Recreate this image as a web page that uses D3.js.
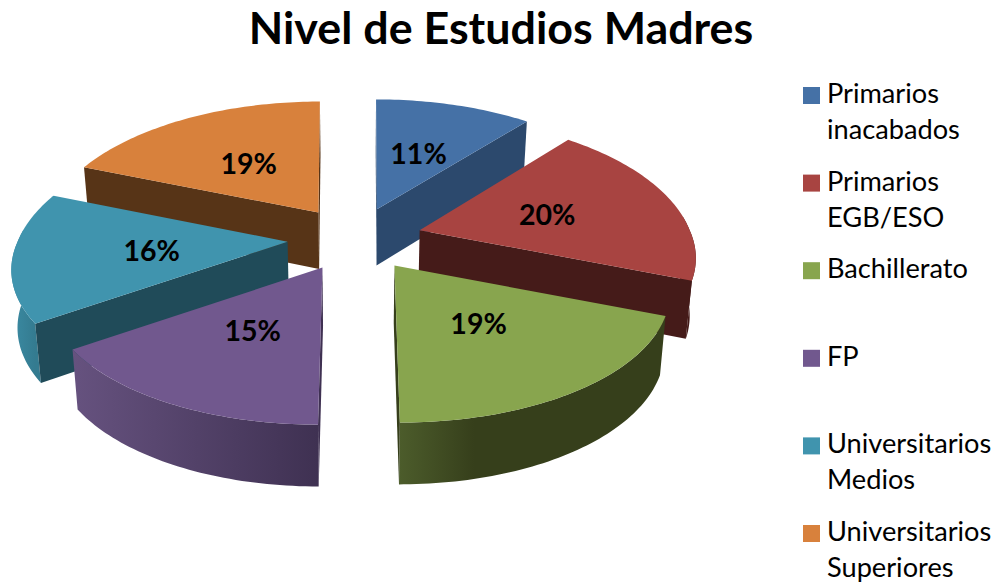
<!DOCTYPE html>
<html>
<head>
<meta charset="utf-8">
<script src="https://cdnjs.cloudflare.com/ajax/libs/d3/7.8.5/d3.min.js"></script>
<style>
  html, body { margin: 0; background: #fff; }
  svg { display: block; }
  text { font-family: Lato, "Open Sans", sans-serif; fill: #000; }
</style>
</head>
<body>
<svg width="1000" height="586"></svg>
<script>
const title = "Nivel de Estudios Madres";
const categories = [
  ["Primarios", "inacabados"],
  ["Primarios", "EGB/ESO"],
  ["Bachillerato"],
  ["FP"],
  ["Universitarios", "Medios"],
  ["Universitarios", "Superiores"]
];
const values = [11, 20, 19, 15.3, 15.7, 19];
const topColors = ["#4571a6", "#a84441", "#88a54e", "#71588e", "#4094ae", "#d8813c"];
const faceColors = ["#2c496d", "#451b19", "#363f1b", "#3f3152", "#204b59", "#573417"];
const wallLeft = ["#2c496d", "#451b19", "#4c5c2b", "#66527f", "#3b8ba3", "#573417"];
const wallRight = ["#2c496d", "#451b19", "#363f1b", "#3f3152", "#347b90", "#573417"];
// back slices get painted first
const drawOrder = [0, 5, 1, 4, 2, 3];

const svg = d3.select("svg");

// perspective of the pie plane
const persp = 0.185;
const center = {x: 355, y: 238};
const explode = 0.25;
const sx = d3.scaleLinear().domain([-1, 1]).range([-270, 270]);
const sy = d3.scaleLinear().domain([-1, 1]).range([128, -128]);
const depth = d3.scaleLinear().domain([100, 430]).range([53.5, 62]);
const bottomShrink = 0.982;

function project(r, a) {
  let X = r * Math.sin(a), Z = r * Math.cos(a);
  let s = 1 / (1 + persp * Z);
  return [sx(X) * s, sy(Z) * s, s, Z];
}

function under(p) {
  return [center.x + (p[0] - center.x) * bottomShrink, p[1] + depth(p[1])];
}

const pie = d3.pie().sort(null).value(d => d);
const arcs = pie(values);
const line = d3.line();

// one slice in screen coordinates
arcs.forEach(d => {
  let mid = (d.startAngle + d.endAngle) / 2;
  let off = project(explode, mid);
  d.apex = [center.x + off[0], center.y + off[1]];
  d.at = (r, a) => {
    let p = project(r, a);
    // slices pulled sideways lean out a bit towards the front
    let lean = off[0] * (p[2] > 1 ? 0.6 : 0.25) * (p[2] - 1);
    let lift = Math.abs(off[0]) * 0.08 * Math.max(p[3], 0);
    return [d.apex[0] + p[0] + lean, d.apex[1] + p[1] - lift];
  };
  d.mid = mid;
  d.angles = d3.range(d.startAngle, d.endAngle, 0.02).concat([d.endAngle]);
});

const defs = svg.append("defs");
const pieG = svg.append("g");

drawOrder.forEach(i => {
  let d = arcs[i];
  let rim = d.angles.map(a => d.at(1, a));
  let g = pieG.append("g");

  // outer wall, only the part turned to the viewer
  let front = d.angles.filter(a => Math.cos(a) < 0.1).map(a => d.at(1, a));
  if (front.length > 1) {
    let xs = front.map(p => p[0]);
    let grad = defs.append("linearGradient")
      .attr("id", "wall" + i)
      .attr("gradientUnits", "userSpaceOnUse")
      .attr("x1", d3.min(xs)).attr("x2", d3.max(xs))
      .attr("y1", 0).attr("y2", 0);
    grad.append("stop").attr("offset", 0).attr("stop-color", wallLeft[i]);
    // green goes dark fast, the purple one is gradual
    if (i === 2) grad.append("stop").attr("offset", 0.28).attr("stop-color", wallRight[i]);
    grad.append("stop").attr("offset", 1).attr("stop-color", wallRight[i]);
    g.append("path")
      .attr("d", line(front.concat(front.map(under).reverse())) + "Z")
      .attr("fill", "url(#wall" + i + ")");
  }

  // cut faces we can see, the ones on the 0 and 180 line are just slivers
  let faces = [];
  if (Math.sin(d.startAngle) < 0.01) faces.push(d.startAngle);
  if (Math.sin(d.endAngle) > -0.01) faces.push(d.endAngle);
  faces.forEach(a => {
    let outer = d.at(1, a);
    g.append("path")
      .attr("d", line([d.apex, outer, under(outer), under(d.apex)]) + "Z")
      .attr("fill", faceColors[i]);
  });

  // top of the slice
  g.append("path")
    .attr("d", line([d.apex].concat(rim)) + "Z")
    .attr("fill", topColors[i]);
});

// percent labels
svg.append("g").selectAll("text")
  .data(arcs)
  .join("text")
  .attr("x", d => d.at(0.5, d.mid)[0])
  .attr("y", d => d.at(0.5, d.mid)[1])
  .attr("dy", "0.4em")
  .attr("text-anchor", "middle")
  .attr("font-size", 28.5)
  .attr("font-weight", 700)
  .text(d => Math.round(d.value) + "%");

svg.append("text")
  .attr("x", 501)
  .attr("y", 44)
  .attr("text-anchor", "middle")
  .attr("font-size", 44.8)
  .attr("font-weight", 700)
  .text(title);

// legend
const legendY = d3.scalePoint().domain(d3.range(categories.length)).range([102, 540]);
const legend = svg.append("g").selectAll("g")
  .data(categories)
  .join("g")
  .attr("transform", (d, i) => "translate(803," + legendY(i) + ")");
legend.append("rect")
  .attr("y", -15)
  .attr("width", 17)
  .attr("height", 17)
  .attr("fill", (d, i) => topColors[i]);
legend.each(function(lines) {
  d3.select(this).selectAll("text")
    .data(lines)
    .join("text")
    .attr("x", 24)
    .attr("y", (d, j) => 1 + j * 36)
    .attr("font-size", 27.2)
    .text(d => d);
});
</script>
</body>
</html>
